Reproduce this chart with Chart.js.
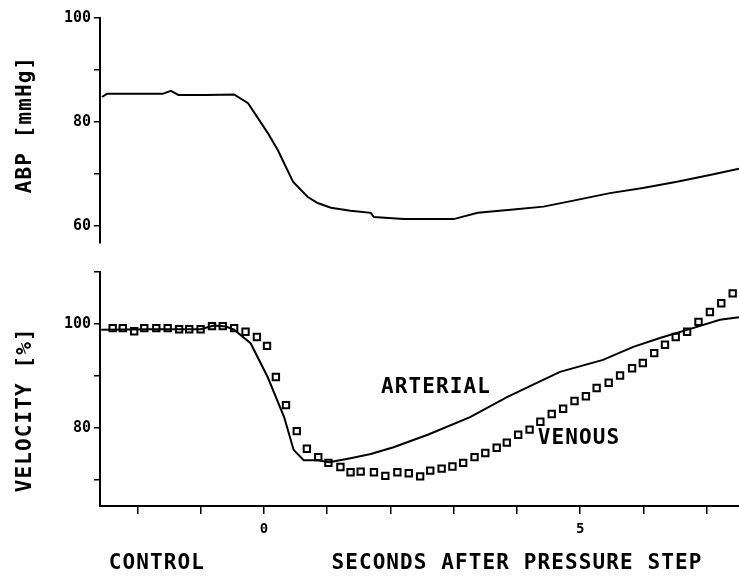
<!DOCTYPE html>
<html>
<head>
<meta charset="utf-8">
<script src="https://cdn.jsdelivr.net/npm/chart.js@4"></script>
<style>
  body { margin: 0; background: #fff; }
  #wrap { position: relative; width: 739px; height: 578px; background: #fff; }
  #topChart { position: absolute; left: 0; top: 0; }
  #botChart { position: absolute; left: 0; top: 250px; }
</style>
</head>
<body>
<div id="wrap">
  <canvas id="topChart" width="739" height="250"></canvas>
  <canvas id="botChart" width="739" height="328"></canvas>
</div>
<script>
// time axis (seconds after pressure step)
const timeTicks = [-2, -1, 0, 1, 2, 3, 4, 5, 6, 7];
const timeLabels = [0, 5];

// upper panel: arterial blood pressure
const abpTime = [-2.56, -2.48, -2.0, -1.6, -1.47, -1.35, -0.9, -0.47, -0.25, 0.06, 0.22, 0.46, 0.69, 0.85, 1.06, 1.37, 1.69, 1.74, 2.21, 3.0, 3.38, 3.9, 4.42, 4.95, 5.47, 5.99, 6.53, 7.05, 7.51];
const abpValues = [84.8, 85.4, 85.4, 85.4, 86.0, 85.2, 85.2, 85.3, 83.6, 77.9, 74.6, 68.5, 65.6, 64.4, 63.5, 62.9, 62.5, 61.7, 61.3, 61.3, 62.5, 63.1, 63.7, 65.0, 66.3, 67.3, 68.5, 69.8, 71.0];
const abpTicks = [60, 70, 80, 90, 100];
const abpLabels = [60, 80, 100];

// lower panel: arterial velocity (line)
const arterialTime = [-2.57, -1.8, -1.0, -0.79, -0.6, -0.47, -0.21, 0.06, 0.32, 0.47, 0.63, 0.85, 1.03, 1.37, 1.69, 2.05, 2.59, 3.26, 3.85, 4.68, 5.36, 5.84, 6.26, 6.78, 7.21, 7.51];
const arterialVel = [98.9, 99.0, 99.0, 99.7, 99.5, 98.9, 96.3, 89.8, 82.1, 75.8, 73.8, 73.8, 73.4, 74.2, 75.0, 76.3, 78.7, 82.1, 86.0, 90.8, 93.1, 95.6, 97.3, 99.2, 100.8, 101.3];

// lower panel: venous velocity (squares)
const venousTime = [-2.39, -2.23, -2.05, -1.89, -1.70, -1.52, -1.34, -1.18, -1.00, -0.82, -0.65, -0.47, -0.29, -0.11, 0.05, 0.19, 0.35, 0.52, 0.68, 0.86, 1.02, 1.21, 1.37, 1.53, 1.74, 1.92, 2.11, 2.29, 2.47, 2.63, 2.81, 2.98, 3.15, 3.33, 3.50, 3.68, 3.84, 4.02, 4.20, 4.37, 4.55, 4.73, 4.91, 5.09, 5.26, 5.45, 5.63, 5.82, 5.99, 6.17, 6.34, 6.51, 6.69, 6.87, 7.05, 7.23, 7.41];
const venousVel = [99.2, 99.2, 98.6, 99.2, 99.2, 99.2, 99.0, 99.0, 99.0, 99.6, 99.6, 99.2, 98.5, 97.5, 95.8, 89.8, 84.4, 79.4, 76.0, 74.4, 73.3, 72.5, 71.5, 71.6, 71.5, 70.8, 71.5, 71.3, 70.7, 71.8, 72.2, 72.6, 73.3, 74.4, 75.2, 76.2, 77.2, 78.7, 79.7, 81.2, 82.7, 83.7, 85.2, 86.1, 87.7, 88.7, 90.1, 91.5, 92.5, 94.4, 96.0, 97.5, 98.5, 100.4, 102.3, 104.0, 105.9];
const velTicks = [70, 80, 90, 100, 110];
const velLabels = [80, 100];

// free text, placed in axis units
const topTexts = [
  { text: 'ABP [mmHg]', t: -3.76, v: 79.5, rotate: true }
];
const botTexts = [
  { text: 'VELOCITY [%]', t: -3.77, v: 83.5, rotate: true },
  { text: 'ARTERIAL', t: 2.72, v: 87.8 },
  { text: 'VENOUS', t: 4.98, v: 78.0 },
  { text: 'CONTROL', t: -1.69, v: 54.0 },
  { text: 'SECONDS AFTER PRESSURE STEP', t: 4.0, v: 54.0 }
];

const plotFont = '"DejaVu Sans Mono", monospace';

const textPlugin = {
  id: 'freeText',
  afterDraw(chart, args, opts) {
    const ctx = chart.ctx;
    const xs = chart.scales.x, ys = chart.scales.y;
    ctx.save();
    ctx.fillStyle = '#000';
    ctx.font = 'bold 21px ' + plotFont;
    ctx.letterSpacing = '1.1px';
    ctx.textAlign = 'center';
    ctx.textBaseline = 'middle';
    opts.labels.forEach(l => {
      ctx.save();
      ctx.translate(xs.getPixelForValue(l.t), ys.getPixelForValue(l.v));
      if (l.rotate) ctx.rotate(-Math.PI / 2);
      ctx.fillText(l.text, 0, 0);
      ctx.restore();
    });
    ctx.restore();
  }
};

function yAxis(min, max, tickList, labelList) {
  return {
    min: min,
    max: max,
    afterBuildTicks: s => { s.ticks = tickList.map(v => ({ value: v })); },
    afterFit: s => {
      s.width = 100;
      s.paddingTop = 0;
      s.paddingBottom = 0;
    },
    ticks: {
      color: '#000',
      padding: 3,
      font: { family: plotFont, weight: 'bold', size: 15 },
      callback: v => labelList.includes(v) ? String(v) : ''
    },
    grid: { drawOnChartArea: false, tickLength: 6, color: '#000', lineWidth: 1.5 },
    border: { color: '#000', width: 2 }
  };
}

function xAxis(show) {
  return {
    type: 'linear',
    min: -2.59,
    max: 7.51,
    display: show,
    afterBuildTicks: s => { s.ticks = timeTicks.map(v => ({ value: v })); },
    afterFit: s => {
      s.paddingLeft = 0;
      s.paddingRight = 0;
      if (show) s.height = 72;
    },
    ticks: {
      color: '#000',
      padding: 7,
      maxRotation: 0,
      autoSkip: false,
      font: { family: plotFont, weight: 'bold', size: 14 },
      callback: v => timeLabels.includes(v) ? String(v) : ''
    },
    grid: { drawOnChartArea: false, tickLength: 8, color: '#000', lineWidth: 1.5 },
    border: { color: '#000', width: 2 }
  };
}

const common = {
  responsive: false,
  animation: false,
  events: [],
  plugins: { legend: { display: false }, tooltip: { enabled: false } }
};

new Chart(document.getElementById('topChart'), {
  type: 'line',
  data: {
    datasets: [{
      label: 'ABP',
      data: abpTime.map((t, i) => ({ x: t, y: abpValues[i] })),
      borderColor: '#000',
      borderWidth: 2,
      pointRadius: 0,
      tension: 0
    }]
  },
  options: Object.assign({}, common, {
    layout: { autoPadding: false, padding: { top: 18, right: 0, bottom: 7, left: 0 } },
    scales: { x: xAxis(false), y: yAxis(56.7, 100, abpTicks, abpLabels) },
    plugins: Object.assign({}, common.plugins, { freeText: { labels: topTexts } })
  }),
  plugins: [textPlugin]
});

new Chart(document.getElementById('botChart'), {
  type: 'line',
  data: {
    datasets: [{
      label: 'ARTERIAL',
      data: arterialTime.map((t, i) => ({ x: t, y: arterialVel[i] })),
      borderColor: '#000',
      borderWidth: 2,
      pointRadius: 0,
      tension: 0
    }, {
      label: 'VENOUS',
      data: venousTime.map((t, i) => ({ x: t, y: venousVel[i] })),
      showLine: false,
      pointStyle: 'rect',
      pointRadius: 4.5,
      pointBorderWidth: 2,
      pointBorderColor: '#000',
      pointBackgroundColor: 'rgba(0,0,0,0)'
    }]
  },
  options: Object.assign({}, common, {
    layout: { autoPadding: false, padding: { top: 22, right: 0, bottom: 0, left: 0 } },
    scales: { x: xAxis(true), y: yAxis(65, 110, velTicks, velLabels) },
    plugins: Object.assign({}, common.plugins, { freeText: { labels: botTexts } })
  }),
  plugins: [textPlugin]
});
</script>
</body>
</html>
